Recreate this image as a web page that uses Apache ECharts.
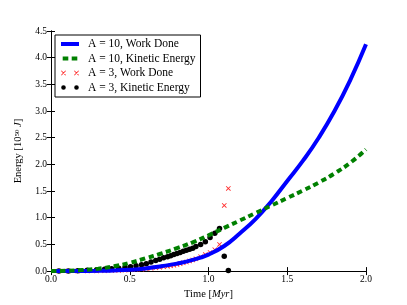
<!DOCTYPE html>
<html>
<head>
<meta charset="utf-8">
<script src="https://cdn.jsdelivr.net/npm/echarts@6/dist/echarts.min.js"></script>
<style>html,body{margin:0;padding:0;background:#fff}#c{width:407px;height:305px}</style>
</head>
<body>
<div id="c"></div>
<script>
// A = 10 curves
var timeA10 = [0.0,0.1,0.2,0.3,0.4,0.5,0.6,0.7,0.8,0.9,1.0,1.1,1.2,1.3,1.4,1.5,1.6,1.7,1.8,1.9,2.0];
var workA10 = [0,0.001,0.003,0.006,0.012,0.025,0.05,0.09,0.14,0.21,0.31,0.47,0.71,0.98,1.31,1.69,2.07,2.5,3.0,3.58,4.25];
var keA10   = [0,0.005,0.02,0.045,0.09,0.155,0.24,0.33,0.43,0.54,0.67,0.81,0.95,1.09,1.23,1.37,1.51,1.66,1.83,2.03,2.28];
// A = 3 simulation samples
var timeA3 = [0.05,0.11,0.17,0.23,0.29,0.34,0.385,0.43,0.47,0.505,0.54,0.575,0.605,0.635,0.665,0.69,0.715,0.74,0.76,0.78,0.80,0.82,0.84,0.86,0.88,0.90,0.92,0.95,0.98,1.01,1.04,1.07,1.10,1.126];
var workA3 = [0,0,0.001,0.002,0.004,0.006,0.009,0.013,0.018,0.024,0.03,0.037,0.045,0.053,0.062,0.07,0.08,0.09,0.1,0.11,0.125,0.14,0.155,0.17,0.19,0.21,0.23,0.27,0.31,0.35,0.40,0.50,1.23,1.55];
var keA3   = [0,0.003,0.008,0.015,0.025,0.035,0.045,0.055,0.07,0.08,0.1,0.12,0.14,0.17,0.2,0.22,0.25,0.27,0.29,0.31,0.33,0.35,0.37,0.39,0.41,0.43,0.46,0.5,0.55,0.63,0.71,0.80,0.28,0.01];
var seriesNames = ['A = 10, Work Done','A = 10, Kinetic Energy','A = 3, Work Done','A = 3, Kinetic Energy'];

function pairs(xs, ys){ return xs.map(function(x,i){ return [x, ys[i]]; }); }

var FONT = 'Liberation Serif';
var corners = 'M0,0h0.01v0.01h-0.01Z M17.99,4.99h0.01v0.01h-0.01Z ';
var iconLine = 'path://' + corners + 'M0,0.5H18V4.5H0Z';
var iconDash = 'path://' + corners + 'M1.7,0.5H7.3V4.5H1.7Z M10.7,0.5H16.3V4.5H10.7Z';
function xShape(ox){
  return 'M'+(ox)+',0.6L'+(ox+0.6)+',0L'+(ox+5)+',4.4L'+(ox+4.4)+',5Z ' +
         'M'+(ox+4.4)+',0L'+(ox+5)+',0.6L'+(ox+0.6)+',5L'+(ox)+',4.4Z ';
}
var iconX = 'path://' + corners + xShape(0) + xShape(13);
var iconDots = 'path://' + corners + 'M0.2,2.5a2.3,2.3 0 1,0 4.6,0a2.3,2.3 0 1,0 -4.6,0Z M13.2,2.5a2.3,2.3 0 1,0 4.6,0a2.3,2.3 0 1,0 -4.6,0Z';
var xSymbol = 'path://' + xShape(0);

var tickStyle = {inside:true, length:4, lineStyle:{color:'#000', width:1}};
var lineStyleAx = {show:true, lineStyle:{color:'#000', width:1}};

var chart = echarts.init(document.getElementById('c'), null, {renderer:'canvas'});
chart.setOption({
  animation:false,
  backgroundColor:'#fff',
  grid:{left:51, right:41, top:31, bottom:31},
  legend:{
    orient:'vertical', left:55, top:35,
    padding:[2.75, 5, 3.25, 6],
    itemGap:2, itemWidth:18, itemHeight:5,
    symbolKeepAspect:false,
    borderColor:'#000', borderWidth:1, borderRadius:0,
    backgroundColor:'#fff',
    selectedMode:false,
    textStyle:{fontFamily:FONT, fontSize:11.5, color:'#000', lineHeight:12.5, padding:[0,0,0,4]},
    data:[
      {name:seriesNames[0], icon:iconLine},
      {name:seriesNames[1], icon:iconDash},
      {name:seriesNames[2], icon:iconX},
      {name:seriesNames[3], icon:iconDots}
    ]
  },
  xAxis:[
    {type:'value', min:0, max:2, interval:0.5, position:'bottom',
     name:'Time [{i|Myr}]', nameLocation:'middle', nameGap:11,
     nameTextStyle:{fontFamily:FONT, fontSize:10.5, color:'#000',
       rich:{i:{fontFamily:FONT, fontStyle:'italic', fontSize:10.5, color:'#000'}}},
     axisLine:lineStyleAx, axisTick:tickStyle,
     axisLabel:{fontFamily:FONT, fontSize:9.5, color:'#000', margin:3, formatter:function(v){return v.toFixed(1);}},
     splitLine:{show:false}},
    {type:'value', min:0, max:2, interval:0.5, position:'top',
     axisLine:lineStyleAx, axisTick:tickStyle, axisLabel:{show:false}, splitLine:{show:false}}
  ],
  yAxis:[
    {type:'value', min:0, max:4.5, interval:0.5, position:'left',
     name:'Energy [10{sup|50} {i|J}]', nameLocation:'middle', nameGap:19, nameRotate:90,
     nameTextStyle:{fontFamily:FONT, fontSize:10.5, color:'#000',
       rich:{sup:{fontFamily:FONT, fontSize:7, color:'#000', verticalAlign:'top', padding:[0,0,4,0]},
             i:{fontFamily:FONT, fontStyle:'italic', fontSize:10.5, color:'#000'}}},
     axisLine:lineStyleAx, axisTick:tickStyle,
     axisLabel:{fontFamily:FONT, fontSize:9.5, color:'#000', margin:4, formatter:function(v){return v.toFixed(1);}},
     splitLine:{show:false}},
    {type:'value', min:0, max:4.5, interval:0.5, position:'right',
     axisLine:lineStyleAx, axisTick:tickStyle, axisLabel:{show:false}, splitLine:{show:false}}
  ],
  series:[
    {name:seriesNames[0], type:'line', data:pairs(timeA10, workA10), smooth:0.5, showSymbol:false, symbol:'none',
     itemStyle:{color:'#0000ff'}, lineStyle:{color:'#0000ff', width:4}},
    {name:seriesNames[1], type:'line', data:pairs(timeA10, keA10), smooth:0.5, showSymbol:false, symbol:'none',
     itemStyle:{color:'#008000'}, lineStyle:{color:'#008000', width:4, type:[5.5,3.5]}},
    {name:seriesNames[2], type:'scatter', data:pairs(timeA3, workA3), symbol:xSymbol, symbolSize:5,
     itemStyle:{color:'#ff2a2a', opacity:1}},
    {name:seriesNames[3], type:'scatter', data:pairs(timeA3, keA3), symbol:'circle', symbolSize:5.5,
     itemStyle:{color:'#000', opacity:1}}
  ]
});
</script>
</body>
</html>
